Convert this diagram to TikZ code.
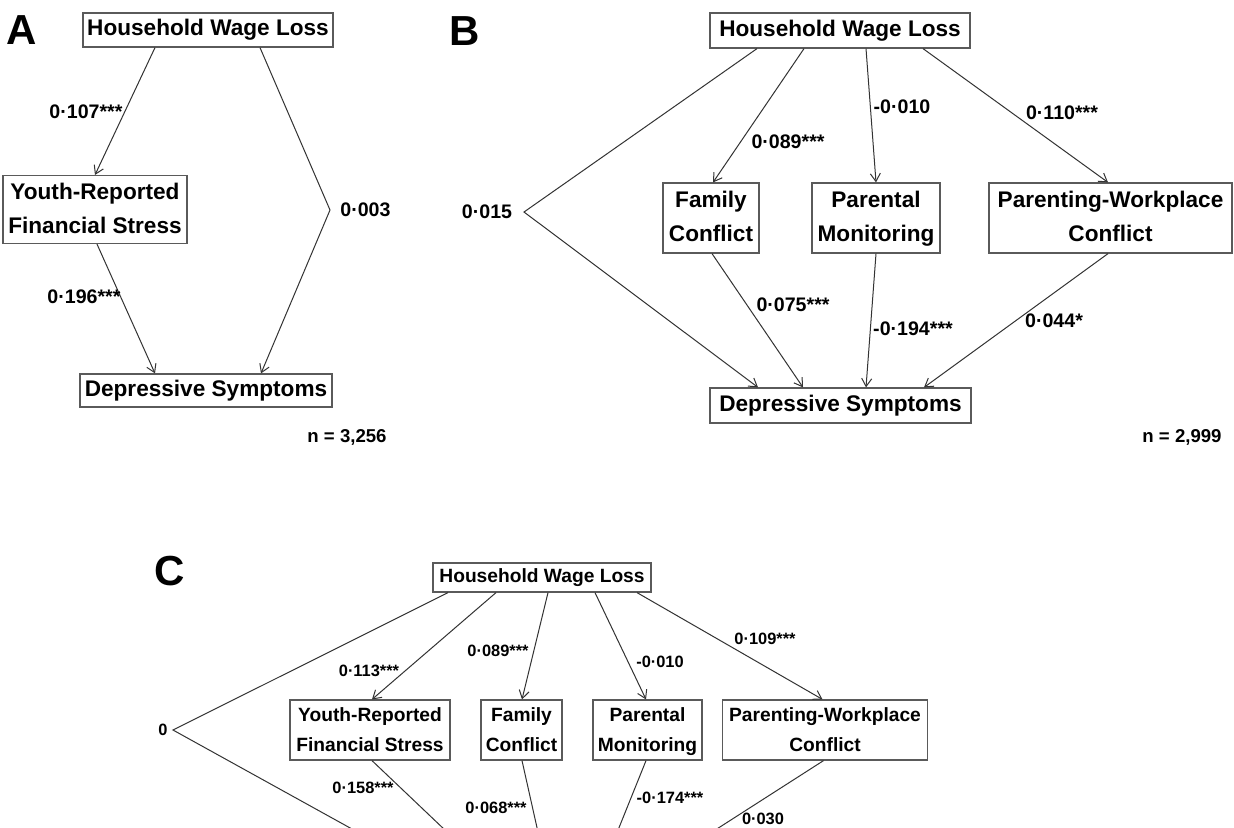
\documentclass[tikz,border=0pt]{standalone}
\usepackage{fontspec}
\setmainfont{Liberation Sans}
\usetikzlibrary{arrows.meta}
\definecolor{boxgray}{HTML}{5A5A5A}
\definecolor{linegray}{HTML}{333333}
\tikzset{
  box/.style={draw=boxgray, line width=0.6pt, inner sep=0pt, align=center,
    font=\bfseries\fontsize{11.3}{17}\selectfont},
  boxC/.style={box, font=\bfseries\fontsize{9.6}{15}\selectfont},
  lbl/.style={inner sep=0pt, font=\bfseries\fontsize{9.8}{12}\selectfont},
  lblC/.style={inner sep=0pt, font=\bfseries\fontsize{8.2}{10}\selectfont},
  nlbl/.style={inner sep=0pt, font=\bfseries\fontsize{9.3}{11}\selectfont},
  panel/.style={inner sep=0pt, font=\bfseries\fontsize{21}{24}\selectfont},
  conn/.style={draw=linegray, line width=0.5pt},
  arr/.style={conn, -{Straight Barb[length=4pt,width=5pt]}}
}
\begin{document}
\begin{tikzpicture}[x=0.5pt,y=-0.5pt]
\clip (0,0) rectangle (1234,827);
\fill[white] (0,0) rectangle (1234,827);

% ---------------- Panel A ----------------
\node[panel] (pA) at (22,30) {A};
\node[box, minimum width=125pt, minimum height=17pt] (hwlA) at (208,30) {Household Wage Loss};
\node[box, minimum width=92pt, minimum height=33.5pt] (yrfsA) at (95,209.5) {\strut Youth-Reported\\Financial Stress\strut};
\node[box, minimum width=126pt, minimum height=16.5pt] (dsA) at (206,390.5) {Depressive Symptoms};
\coordinate (vA) at (330,210);

\draw[arr] ([xshift=-26.5pt]hwlA.south) -- (yrfsA.north);
\draw[arr] ([xshift=26pt]hwlA.south) -- (vA) -- ([xshift=27.5pt]dsA.north);
\draw[arr] ([xshift=1pt]yrfsA.south) -- ([xshift=-25.5pt]dsA.north);

\node[lbl] (lA1) at (86,112) {0·107***};
\node[lbl, anchor=west] (lA2) at (340,210) {0·003};
\node[lbl] (lA3) at (84,297) {0·196***};
\node[nlbl] (nA) at (347,437) {n = 3,256};

% ---------------- Panel B ----------------
\node[panel] (pB) at (465,31) {B};
\node[box, minimum width=130pt, minimum height=17.5pt] (hwlB) at (840,30.5) {Household Wage Loss};
\node[box, minimum width=48pt, minimum height=35pt] (fcB) at (711,218) {\strut Family\\Conflict\strut};
\node[box, minimum width=64pt, minimum height=35pt] (pmB) at (876,218) {\strut Parental\\Monitoring\strut};
\node[box, minimum width=121.5pt, minimum height=35pt] (pwcB) at (1110.5,218) {\strut Parenting-Workplace\\Conflict\strut};
\node[box, minimum width=130.5pt, minimum height=17.5pt] (dsB) at (840.5,405.5) {Depressive Symptoms};
\coordinate (vB) at (524,212);

\draw[arr] ([xshift=-41.5pt]hwlB.south) -- (vB) -- ([xshift=-41.25pt]dsB.north);
\draw[arr] ([xshift=-18pt]hwlB.south) -- ([xshift=1pt]fcB.north);
\draw[arr] ([xshift=13pt]hwlB.south) -- (pmB.north);
\draw[arr] ([xshift=41.5pt]hwlB.south) -- ([xshift=-1.25pt]pwcB.north);
\draw[arr] ([xshift=0.5pt]fcB.south) -- ([xshift=-18.75pt]dsB.north);
\draw[arr] (pmB.south) -- ([xshift=12.75pt]dsB.north);
\draw[arr] ([xshift=-1.25pt]pwcB.south) -- ([xshift=41.75pt]dsB.north);

\node[lbl] (lB0) at (487,212) {0·015};
\node[lbl] (lB1) at (788,142) {0·089***};
\node[lbl] (lB2) at (902,107) {-0·010};
\node[lbl] (lB3) at (1062,113) {0·110***};
\node[lbl] (lB4) at (793,305) {0·075***};
\node[lbl] (lB5) at (913,329) {-0·194***};
\node[lbl] (lB6) at (1054,321) {0·044*};
\node[nlbl] (nB) at (1182,437) {n = 2,999};

% ---------------- Panel C ----------------
\node[panel] (pC) at (170,571) {C};
\node[boxC, minimum width=109pt, minimum height=14.5pt] (hwlC) at (542,577.5) {Household Wage Loss};
\node[boxC, minimum width=80pt, minimum height=29pt] (yrfsC) at (370,730) {\strut Youth-Reported\\Financial Stress\strut};
\node[boxC, minimum width=40.5pt, minimum height=29pt] (fcC) at (521.5,730) {\strut Family\\Conflict\strut};
\node[boxC, minimum width=54.5pt, minimum height=29pt] (pmC) at (647.5,730) {\strut Parental\\Monitoring\strut};
\node[boxC, minimum width=102.5pt, minimum height=29pt] (pwcC) at (825,730) {\strut Parenting-Workplace\\Conflict\strut};
\coordinate (vC) at (173,730);
\coordinate (eV) at (390,850);
\coordinate (eY) at (466,850);
\coordinate (eF) at (542,850);
\coordinate (eM) at (610,850);
\coordinate (eP) at (684,850);

\draw[conn] ([xshift=-47pt]hwlC.south) -- (vC) -- (eV);
\draw[arr] ([xshift=-23pt]hwlC.south) -- ([xshift=1pt]yrfsC.north);
\draw[arr] ([xshift=3pt]hwlC.south) -- ([xshift=0.25pt]fcC.north);
\draw[arr] ([xshift=26.5pt]hwlC.south) -- ([xshift=-0.75pt]pmC.north);
\draw[arr] ([xshift=47.5pt]hwlC.south) -- ([xshift=-1.25pt]pwcC.north);
\draw[conn] ([xshift=1pt]yrfsC.south) -- (eY);
\draw[conn] ([xshift=0.25pt]fcC.south) -- (eF);
\draw[conn] ([xshift=-0.75pt]pmC.south) -- (eM);
\draw[conn] ([xshift=-0.75pt]pwcC.south) -- (eP);

\node[lblC] (lC0) at (163,730) {0};
\node[lblC] (lC1) at (369,671) {0·113***};
\node[lblC] (lC2) at (498,651) {0·089***};
\node[lblC] (lC3) at (660,662) {-0·010};
\node[lblC] (lC4) at (765,639) {0·109***};
\node[lblC] (lC5) at (363,788) {0·158***};
\node[lblC] (lC6) at (496,808) {0·068***};
\node[lblC] (lC7) at (670,798) {-0·174***};
\node[lblC] (lC8) at (763,819) {0·030};
\end{tikzpicture}
\end{document}
